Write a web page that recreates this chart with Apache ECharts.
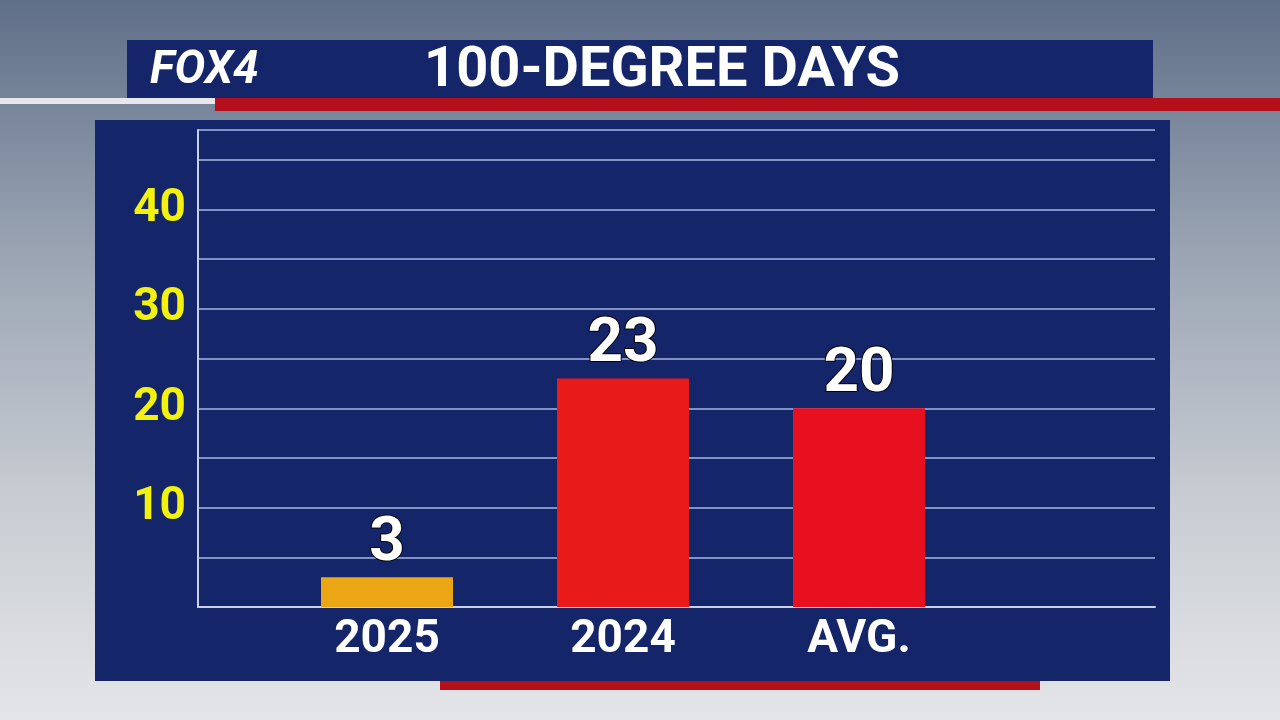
<!DOCTYPE html>
<html><head><meta charset="utf-8">
<script src="https://cdn.jsdelivr.net/npm/echarts@6/dist/echarts.min.js"></script>
<style>html,body{margin:0;padding:0;}#c{width:1280px;height:720px;}</style>
</head><body><div id="c"></div>
<script>
const categories = ['2025', '2024', 'AVG.', ''];
const values = [3, 23, 20, null];
const barColors = ['#eaa614', '#e81a1a', '#e8101e', '#000'];
const yTicks = [10, 20, 30, 40];
const title = '100-DEGREE DAYS';

const FONT = "'Liberation Sans Narrow', 'Roboto', sans-serif";
const chart = echarts.init(document.getElementById('c'));
chart.setOption({
  animation: false,
  backgroundColor: {type: 'linear', x: 0, y: 0, x2: 0, y2: 1, colorStops: [
    {offset: 0, color: '#5f6f88'}, {offset: 0.35, color: '#9aa4b3'},
    {offset: 0.7, color: '#c9cdd3'}, {offset: 1, color: '#e4e5e8'}]},
  graphic: [
    {type: 'rect', shape: {x: 95, y: 120, width: 1075, height: 561}, style: {fill: '#14256a'}, z: -10},
    {type: 'rect', shape: {x: 127, y: 40, width: 1026, height: 58}, style: {fill: '#14256a'}, z: -10},
    {type: 'rect', shape: {x: 0, y: 98, width: 215, height: 6}, style: {fill: '#e8e8ec'}, z: -10},
    {type: 'rect', shape: {x: 215, y: 98, width: 1065, height: 13}, style: {fill: '#b3101c'}, z: -10},
    {type: 'rect', shape: {x: 440, y: 681, width: 600, height: 9}, style: {fill: '#b3101c'}, z: -10},
    {type: 'text', x: 150, y: 48, style: {text: 'FOX4', fill: '#fff', font: "italic bold 46px " + FONT}},
    {type: 'text', x: 662, y: 44, style: {text: title, x: 0, y: 0, fill: '#fff', font: "bold 56px " + FONT, align: 'center', textAlign: 'center'}}
  ],
  grid: [
    {left: 269, right: 67, top: 130, bottom: 113},
    {left: 198, right: 125, top: 130, bottom: 113}
  ],
  xAxis: [
    {type: 'category', gridIndex: 0, data: categories,
     axisLine: {show: false}, axisTick: {show: false},
     axisLabel: {color: '#fff', fontFamily: FONT, fontWeight: 'bold', fontSize: 46, margin: 10}},
    {type: 'category', gridIndex: 1, data: [''], show: true,
     axisLine: {lineStyle: {color: '#c8d0e6', width: 2}}, axisTick: {show: false}, axisLabel: {show: false}}
  ],
  yAxis: [
    {type: 'value', gridIndex: 0, min: 0, max: 48, interval: 5, show: false, splitLine: {show: false}},
    {type: 'value', gridIndex: 1, min: 0, max: 48, interval: 5,
     axisLine: {show: true, lineStyle: {color: '#c8d0e6', width: 2}}, axisTick: {show: false},
     splitLine: {lineStyle: {color: '#8093c4', width: 2}},
     axisLabel: {color: '#f2f20e', fontFamily: FONT, fontWeight: 'bold', fontSize: 46, margin: 12,
       formatter: v => yTicks.includes(v) ? String(v) : ''}}
  ],
  series: [{
    type: 'bar', xAxisIndex: 0, yAxisIndex: 0, barWidth: 132, z: 5,
    data: values.map((v, i) => ({value: v, itemStyle: {color: barColors[i]}})),
    label: {show: true, position: 'top', distance: 2, color: '#fff', fontFamily: FONT, fontWeight: 'bold', fontSize: 62,
      textBorderColor: '#000', textBorderWidth: 2}
  }]
});
</script></body></html>
